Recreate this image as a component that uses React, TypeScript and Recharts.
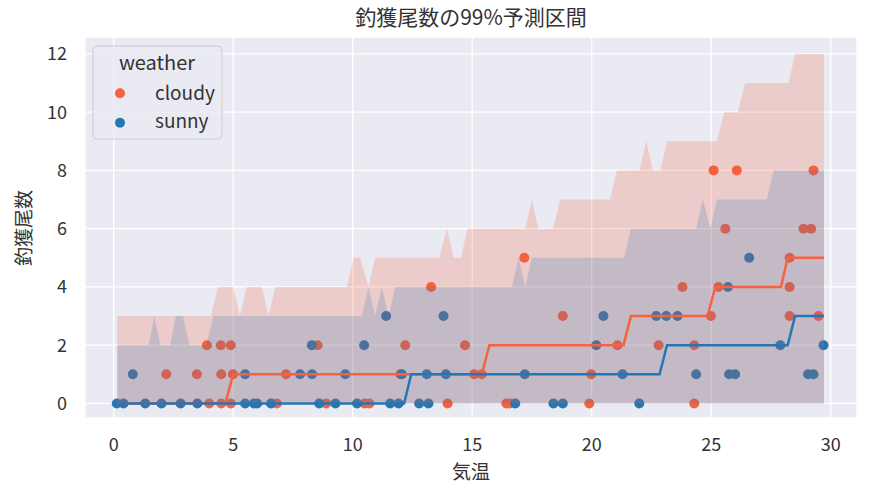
import React from 'react';
import { ComposedChart, Area, Line, Scatter, XAxis, YAxis, CartesianGrid } from 'recharts';

const weathers = ['cloudy', 'sunny'];
const COLORS: Record<string, string> = { cloudy: '#f8613f', sunny: '#2676b4' };

const xTicks = [0, 5, 10, 15, 20, 25, 30];
const yTicks = [0, 2, 4, 6, 8, 10, 12];

// observed catches: [temperature, count]
const cloudyPoints = [
  [4.0, 0], [4.5, 0], [4.9, 0], [6.83, 0], [8.89, 0], [10.5, 0], [10.7, 0], [13.97, 0], [16.43, 0], [16.57, 0], [19.9, 0], [24.29, 0],
  [2.2, 1], [3.48, 1], [4.5, 1], [4.99, 1], [7.21, 1], [11.99, 1], [15.08, 1], [15.4, 1], [19.98, 1],
  [3.9, 2], [4.48, 2], [4.9, 2], [8.53, 2], [12.2, 2], [14.7, 2], [21.08, 2], [22.8, 2], [24.29, 2],
  [18.79, 3], [24.99, 3], [28.28, 3], [29.49, 3],
  [13.28, 4], [23.8, 4], [25.3, 4], [28.28, 4],
  [17.18, 5], [28.28, 5],
  [25.59, 6], [28.86, 6], [29.18, 6],
  [25.1, 8], [26.07, 8], [29.28, 8],
];
const sunnyPoints = [
  [0.13, 0], [0.41, 0], [1.32, 0], [2.0, 0], [2.8, 0], [3.5, 0], [5.5, 0], [5.87, 0], [6.0, 0], [6.58, 0], [8.6, 0], [9.28, 0],
  [10.18, 0], [11.57, 0], [11.92, 0], [12.78, 0], [13.17, 0], [16.8, 0], [18.4, 0], [18.79, 0], [21.99, 0],
  [0.8, 1], [5.5, 1], [7.8, 1], [8.3, 1], [9.69, 1], [12.06, 1], [13.1, 1], [13.9, 1], [17.2, 1], [21.29, 1], [24.37, 1],
  [25.75, 1], [26.0, 1], [29.05, 1], [29.28, 1],
  [8.29, 2], [10.48, 2], [20.19, 2], [27.89, 2], [29.7, 2],
  [11.4, 3], [13.8, 3], [20.49, 3], [22.7, 3], [23.12, 3], [23.59, 3],
  [25.7, 4],
  [26.59, 5],
];

// upper edge of the 99% interval (lower edge is 0): [temperature, upper]
const cloudyUpper = [
  [0.15, 3], [4.08, 3], [4.35, 4], [5.0, 4], [5.28, 3], [5.57, 4], [6.2, 4], [6.48, 3], [6.76, 4], [9.76, 4], [10.03, 5],
  [10.31, 5], [10.66, 4], [10.94, 5], [13.63, 5], [13.94, 6], [14.22, 5], [14.53, 5], [14.8, 6], [17.22, 6], [17.5, 7],
  [17.77, 6], [18.38, 6], [18.68, 7], [20.77, 7], [21.05, 8], [22.0, 8], [22.28, 9], [22.56, 8], [22.87, 8], [23.15, 9],
  [25.24, 9], [25.54, 10], [26.12, 10], [26.42, 11], [28.24, 11], [28.51, 12], [29.72, 12],
];
const sunnyUpper = [
  [0.15, 2], [1.46, 2], [1.7, 3], [1.95, 2], [2.36, 2], [2.6, 3], [2.9, 3], [3.17, 2], [3.87, 2], [4.18, 3], [10.38, 3],
  [10.66, 4], [10.94, 3], [11.22, 4], [11.5, 3], [11.78, 4], [16.66, 4], [16.94, 5], [17.22, 4], [17.5, 5], [21.36, 5],
  [21.64, 6], [24.37, 6], [24.65, 7], [24.96, 6], [25.24, 7], [27.33, 7], [27.61, 8], [29.72, 8],
];

// median prediction: [temperature, count]
const cloudyMedian = [
  [0.15, 0], [4.67, 0], [5.0, 1], [15.4, 1], [15.72, 2], [21.33, 2], [21.64, 3], [24.85, 3], [25.17, 4], [27.92, 4], [28.2, 5], [29.72, 5],
];
const sunnyMedian = [
  [0.15, 0], [12.15, 0], [12.45, 1], [22.84, 1], [23.15, 2], [28.2, 2], [28.51, 3], [29.72, 3],
];

const rows = new Map<number, any>();
const put = (pairs: number[][], key: string, band: boolean) =>
  pairs.forEach(([x, y]) => {
    const r = rows.get(x) ?? { x };
    r[key] = band ? [0, y] : y;
    rows.set(x, r);
  });
put(cloudyUpper, 'cloudyBand', true);
put(sunnyUpper, 'sunnyBand', true);
put(cloudyMedian, 'cloudyMid', false);
put(sunnyMedian, 'sunnyMid', false);
const table = [...rows.values()].sort((a, b) => a.x - b.x);

const toXY = (pairs: number[][]) => pairs.map(([x, y]) => ({ x, y }));

const FONT = '"Noto Sans CJK JP", "Noto Sans", sans-serif';
const TEXT = '#333333';
const tickStyle = { fontSize: 18, fill: TEXT, fontFamily: FONT };

const dot = (color: string) => (props: any) => <circle cx={props.cx} cy={props.cy} r={5} fill={color} />;

const App: React.FC = () => {
  return (
    <div style={{ position: 'absolute', left: 0, top: 0, width: 869, height: 494, background: '#fff', fontFamily: FONT }}>
      <ComposedChart width={869} height={494} data={table} margin={{ top: 37, right: 12, bottom: 0, left: 0 }}>
        <CartesianGrid fill="#eaeaf2" fillOpacity={1} stroke="#ffffff" strokeWidth={1.3} />
        <XAxis
          type="number"
          dataKey="x"
          domain={[-1.2, 31.1]}
          ticks={xTicks}
          allowDataOverflow
          axisLine={false}
          tickLine={false}
          tickSize={6}
          tickMargin={14}
          height={76}
          tick={tickStyle}
        />
        <YAxis
          type="number"
          domain={[-0.5, 12.58]}
          ticks={yTicks}
          allowDataOverflow
          axisLine={false}
          tickLine={false}
          tickSize={6}
          tickMargin={12}
          width={85}
          tick={tickStyle}
        />
        <Scatter name="cloudy" data={toXY(cloudyPoints)} dataKey="y" shape={dot(COLORS.cloudy)} isAnimationActive={false} zIndex={50} />
        <Scatter name="sunny" data={toXY(sunnyPoints)} dataKey="y" shape={dot(COLORS.sunny)} isAnimationActive={false} zIndex={50} />
        <Area dataKey="cloudyBand" type="linear" stroke="none" fill={COLORS.cloudy} fillOpacity={0.22} connectNulls isAnimationActive={false} />
        <Area dataKey="sunnyBand" type="linear" stroke="none" fill={COLORS.sunny} fillOpacity={0.2} connectNulls isAnimationActive={false} />
        <Line dataKey="cloudyMid" type="linear" stroke={COLORS.cloudy} strokeWidth={2.5} dot={false} connectNulls isAnimationActive={false} />
        <Line dataKey="sunnyMid" type="linear" stroke={COLORS.sunny} strokeWidth={2.5} dot={false} connectNulls isAnimationActive={false} />
      </ComposedChart>
      <svg width={869} height={494} style={{ position: 'absolute', left: 0, top: 0, pointerEvents: 'none' }} fontFamily={FONT}>
        <text x={471} y={25} textAnchor="middle" fontSize={21} fill={TEXT}>釣獲尾数の99%予測区間</text>
        <text x={471} y={479} textAnchor="middle" fontSize={19} fill={TEXT}>気温</text>
        <text x={30.5} y={228} textAnchor="middle" fontSize={19} fill={TEXT} transform="rotate(-90, 30.5, 228)">釣獲尾数</text>
        <rect x={93} y={46} width={129} height={93} rx={4} fill="#eaeaf2" fillOpacity={0.8} stroke="#cccccc" />
        <text x={157} y={70} textAnchor="middle" fontSize={20} fill={TEXT}>weather</text>
        {weathers.map((w, i) => (
          <g key={w}>
            <circle cx={120} cy={93.3 + i * 29.4} r={5} fill={COLORS[w]} />
            <text x={155} y={100 + i * 28} fontSize={19} fill={TEXT}>{w}</text>
          </g>
        ))}
      </svg>
    </div>
  );
};

export default App;
